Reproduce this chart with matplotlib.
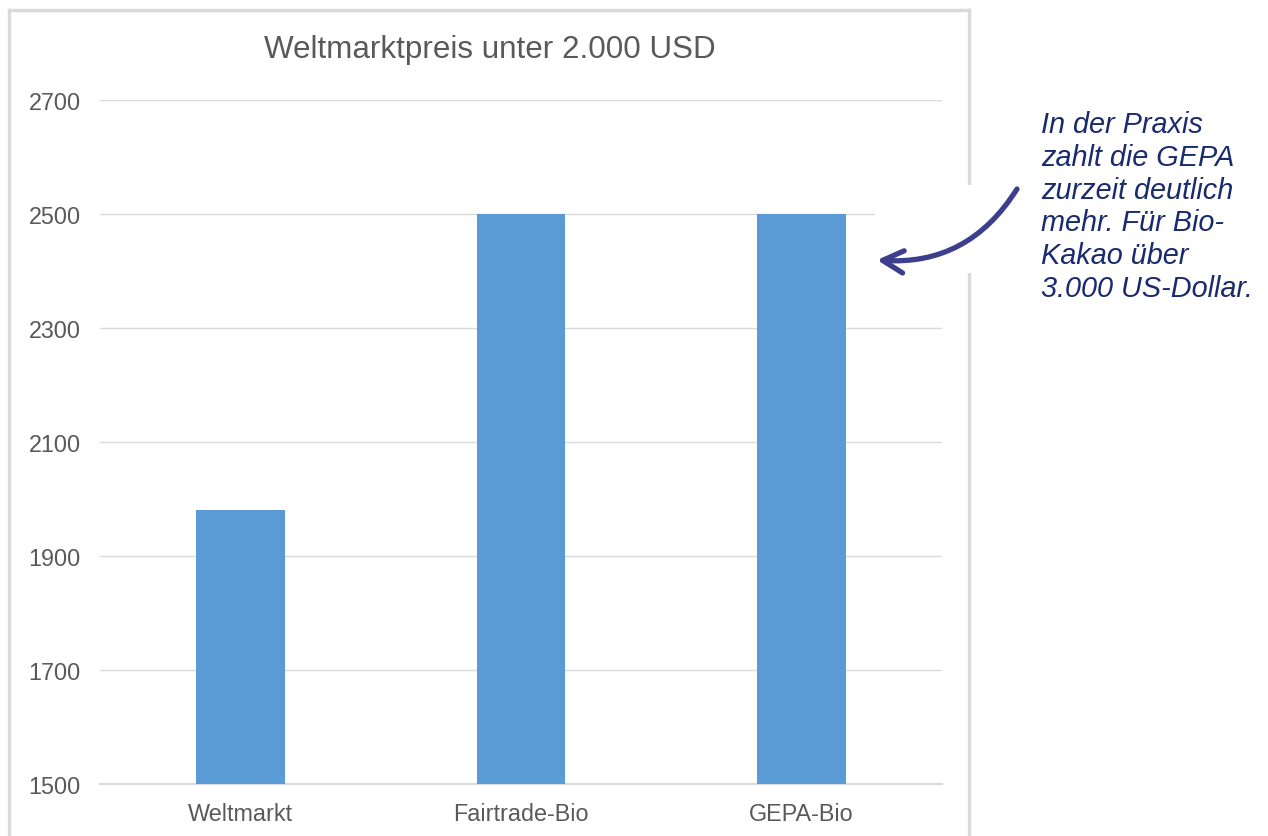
import matplotlib
matplotlib.use("Agg")
import matplotlib.pyplot as plt
from matplotlib.patches import Rectangle, FancyArrowPatch
from matplotlib.lines import Line2D

categories = ["Weltmarkt", "Fairtrade-Bio", "GEPA-Bio"]
values = [1980, 2500, 2500]
yticks = [1500, 1700, 1900, 2100, 2300, 2500, 2700]
title = "Weltmarktpreis unter 2.000 USD"
note_lines = ["In der Praxis", "zahlt die GEPA", "zurzeit deutlich",
              "mehr. Für Bio-", "Kakao über", "3.000 US-Dollar."]

plt.rcParams['font.family'] = ['Liberation Sans', 'DejaVu Sans']

W, H = 1268, 837
fig = plt.figure(figsize=(W / 100, H / 100), dpi=100)
fig.patch.set_facecolor("white")

def fx(x):
    return x / W

def fy(y):
    return 1 - y / H

ax = fig.add_axes([fx(100), fy(784.7), fx(942) - fx(100), fy(101) - fy(784.7)])
x = list(range(len(categories)))
ax.bar(x, values, width=0.317, color="#5B9BD5", zorder=3)
ax.set_xlim(-0.5, 2.5)
ax.set_ylim(1500, 2700)
ax.set_yticks(yticks)
ax.set_yticklabels([str(v) for v in yticks])
ax.set_xticks(x)
ax.set_xticklabels(categories)
ax.grid(axis="y", color="#D9D9D9", linewidth=1.0, zorder=0)
ax.axhline(yticks[0], color="#D9D9D9", linewidth=1.5, zorder=1, clip_on=False)
ax.set_axisbelow(True)
for s in ax.spines.values():
    s.set_visible(False)
ax.tick_params(axis="both", length=0, labelsize=16.8, labelcolor="#595959")
ax.tick_params(axis="y", pad=14)
ax.tick_params(axis="x", pad=13)

# chart border
bc = "#D9D9D9"
fig.add_artist(Line2D([fx(9.3), fx(9.3)], [fy(845), fy(11.3)], color=bc, lw=2.4, transform=fig.transFigure, zorder=1))
fig.add_artist(Line2D([fx(9.3), fx(969)], [fy(11.3), fy(11.3)], color=bc, lw=2.4, transform=fig.transFigure, zorder=1))
fig.add_artist(Line2D([fx(969), fx(969)], [fy(11.3), fy(845)], color=bc, lw=2.4, transform=fig.transFigure, zorder=1))

fig.text(fx(489.5), fy(50), title, ha="center", va="center", fontsize=22.6, color="#595959")

# white box behind annotation
fig.add_artist(Rectangle((fx(875), fy(274)), fx(1030) - fx(875), fy(186) - fy(274),
                         transform=fig.transFigure, facecolor="white", edgecolor="none", zorder=2))

for i, line in enumerate(note_lines):
    fig.text(fx(1041), fy(133 + i * 32.8), line, ha="left", va="baseline", fontsize=20.8,
             style="italic", color="#1A2B6D", zorder=5)

fig.add_artist(FancyArrowPatch(
    (fx(1017), fy(190)), (fx(877), fy(261)), transform=fig.transFigure,
    connectionstyle="arc3,rad=-0.3", arrowstyle="->,head_length=15,head_width=8",
    color="#3D3F8C", lw=3.8, zorder=6, mutation_scale=1, capstyle="round",
    shrinkA=0, shrinkB=0))

fig.savefig("out.png", dpi=100, facecolor="white")
